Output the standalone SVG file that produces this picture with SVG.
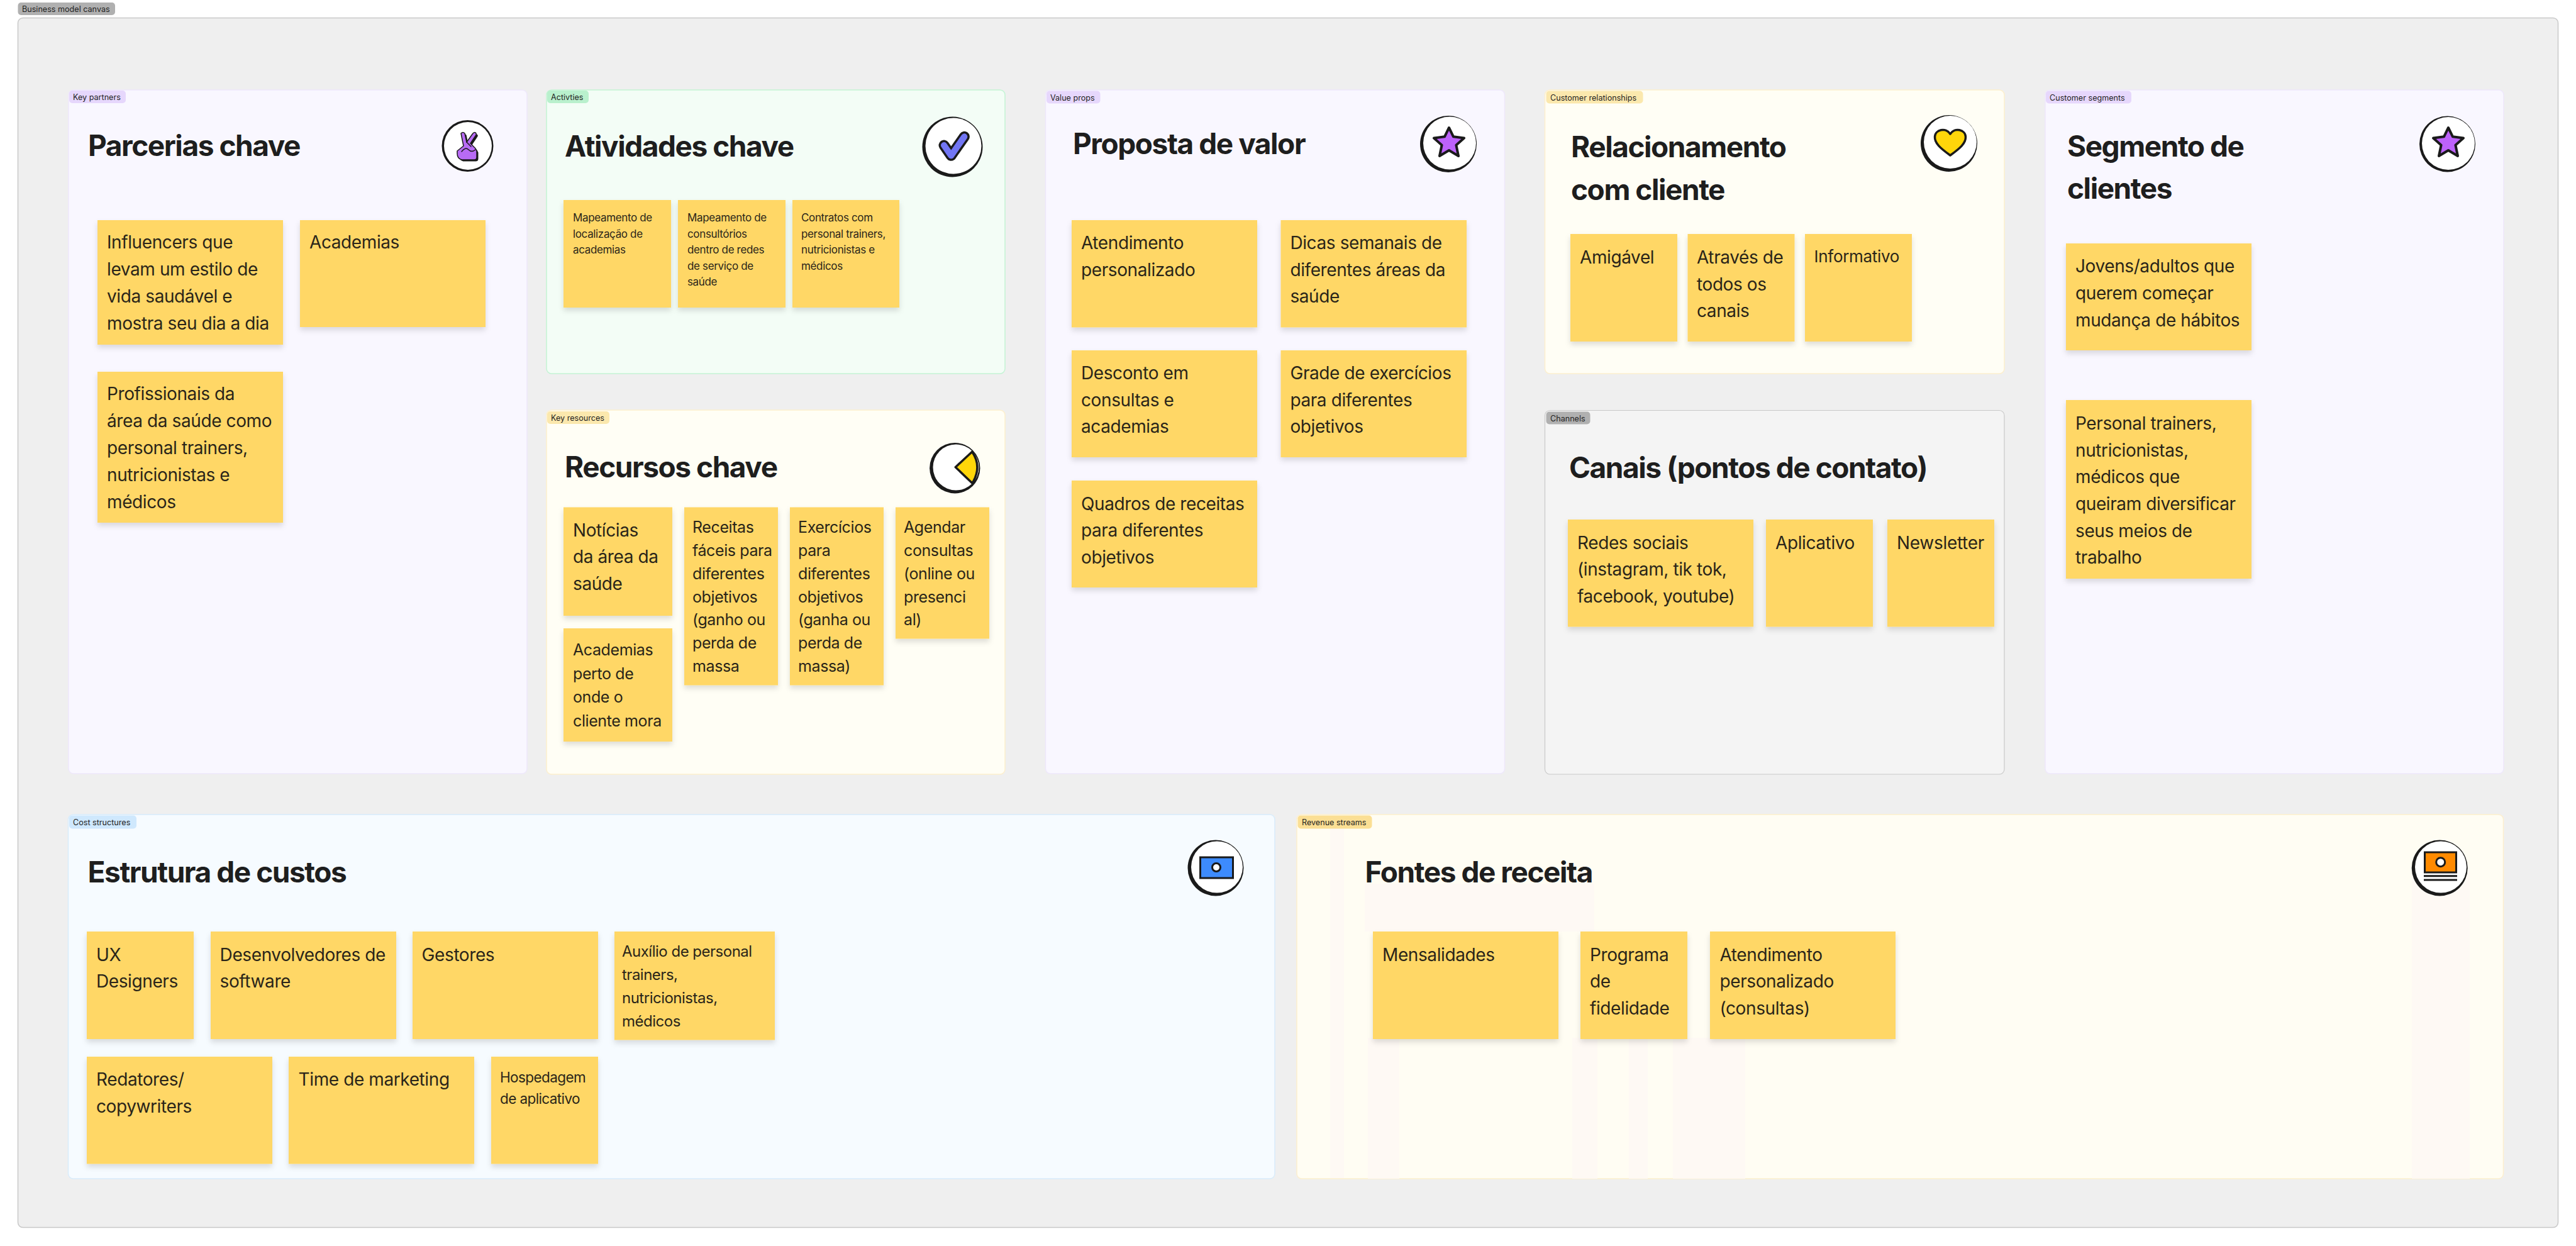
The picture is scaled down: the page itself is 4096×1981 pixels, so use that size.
<svg xmlns="http://www.w3.org/2000/svg" width="4096" height="1981" viewBox="0 0 4096 1981">
<style>
text{font-family:Inter,"Liberation Sans",sans-serif;fill:#2a2519}
.p{stroke-width:1.5}
.pu{fill:#f9f7ff;stroke:#eee8fb}
.gr{fill:#f3fdf6;stroke:#c3f4d4}
.ye{fill:#fffef5;stroke:#fdefcd}
.bl{fill:#f6fbff;stroke:#d8ecfb}
.ga{fill:#f4f4f4;stroke:#c9c9c9;stroke-width:1.2}
.l{font-size:12.6px;fill:#1e1e1e}
.h{font-size:46px;font-weight:700;fill:#1e1e1e;letter-spacing:-1.45px}
.s{fill:#ffd766;filter:url(#sh)}
.t18{font-size:17px;letter-spacing:-.35px}.t24{font-size:22.5px;letter-spacing:-.6px}.t24b{font-size:24px;letter-spacing:-.5px}.t26{font-size:25px;letter-spacing:-.4px}.t28{font-size:26px;letter-spacing:-.3px}.t29{font-size:28px;letter-spacing:-.3px}.t30{font-size:28px;letter-spacing:-.4px}
.ring{fill:#1a1a1a}.in{fill:#fff}
.k{stroke:#1a1a1a;stroke-linejoin:round;stroke-linecap:round}
</style>
<defs>
<filter id="sh" x="-10%" y="-10%" width="120%" height="125%"><feDropShadow dx="0" dy="5" stdDeviation="4" flood-color="#000" flood-opacity=".13"/></filter>
<path id="star" class="k" stroke-width="4" fill="#bd62fb" d="M0-24 7-9.700 24-7.500 11.400 3.700 15 21 0 12-15 21-11.400 3.700-24-7.500-7-9.700Z"/>
<path id="hand" d="M733 212Q736 209 739 212L742 226 752 212Q755 209 757 212 758 214 756 216L748 228 756 236 758 240V250Q758 254 754 254H734Q727 252 727 244V240L737 232Z"/>
</defs>
<rect width="4096" height="1981" fill="#fff"/>
<g id="canvas">
<rect x="28.500" y="28.500" width="4039" height="1923" rx="8" fill="#efefef" stroke="#c8c8c8" stroke-width="1.5"/>
<rect x="28.500" y="4" width="154.500" height="20" rx="5" fill="#b0b0b0"/>
<text class="l" x="35" y="19">Business model canvas</text>
</g>

<g id="key-partners">
<rect class="p pu" x="109" y="143" width="729" height="1087" rx="8"/>
<rect x="110" y="144" width="90" height="20" rx="5" fill="#e6d7fc"/><text class="l" x="116" y="159">Key partners</text>
<text class="h" x="140" y="248">Parcerias chave</text>
<g id="icon-partners"><circle class="ring" cx="743.500" cy="232" r="41"/><circle class="in" cx="744" cy="232" r="38"/>
<use href="#hand" transform="translate(2.500 2.500)" fill="#1a1a1a"/>
<use href="#hand" class="k" stroke-width="1.500" fill="#b86bf5"/>
<path class="k" fill="none" stroke-width="1.500" d="M734 241Q740 233 745 238T756 238M742 226 749 233"/></g>
<g id="s-influencers"><rect class="s" x="155" y="350" width="295" height="198"/><text class="t30" x="170" y="395">Influencers que<tspan x="170" y="438">levam um estilo de</tspan><tspan x="170" y="481">vida saudável e</tspan><tspan x="170" y="523.500">mostra seu dia a dia</tspan></text></g>
<g id="s-academias"><rect class="s" x="477" y="350" width="295" height="170"/><text class="t30" x="492" y="395">Academias</text></g>
<g id="s-profissionais"><rect class="s" x="155" y="591" width="295" height="240"/><text class="t30" x="170" y="636">Profissionais da<tspan x="170" y="679">área da saúde como</tspan><tspan x="170" y="722">personal trainers,</tspan><tspan x="170" y="765">nutricionistas e</tspan><tspan x="170" y="808">médicos</tspan></text></g>
</g>

<g id="activities">
<rect class="p gr" x="869" y="143" width="729" height="451" rx="8"/>
<rect x="870" y="144" width="66" height="20" rx="5" fill="#b9f0cd"/><text class="l" x="876" y="159">Activties</text>
<text class="h" x="898" y="249">Atividades chave</text>
<g id="icon-activities"><circle class="ring" cx="1514.500" cy="233.500" r="48"/><circle class="in" cx="1516" cy="232" r="44.500"/>
<polyline points="1501,231 1512.300,247.300 1533.300,217.300" class="k" fill="none" stroke-width="17"/><polyline points="1501,231 1512.300,247.300 1533.300,217.300" stroke="#7276f4" stroke-linejoin="round" stroke-linecap="round" fill="none" stroke-width="10"/></g>
<g id="s-map1"><rect class="s" x="896" y="318" width="171" height="171"/><text class="t18" x="911" y="352">Mapeamento de<tspan x="911" y="377.500">localização de</tspan><tspan x="911" y="403">academias</tspan></text></g>
<g id="s-map2"><rect class="s" x="1078" y="318" width="171" height="171"/><text class="t18" x="1093" y="352">Mapeamento de<tspan x="1093" y="377.500">consultórios</tspan><tspan x="1093" y="403">dentro de redes</tspan><tspan x="1093" y="428.500">de serviço de</tspan><tspan x="1093" y="454">saúde</tspan></text></g>
<g id="s-contratos"><rect class="s" x="1260" y="318" width="170" height="171"/><text class="t18" x="1274" y="352">Contratos com<tspan x="1274" y="377.500">personal trainers,</tspan><tspan x="1274" y="403">nutricionistas e</tspan><tspan x="1274" y="428.500">médicos</tspan></text></g>
</g>

<g id="key-resources">
<rect class="p ye" x="869" y="652" width="729" height="579" rx="8"/>
<rect x="870" y="654" width="99" height="20" rx="5" fill="#fbe8ad"/><text class="l" x="876" y="669">Key resources</text>
<text class="h" x="898" y="758.500">Recursos chave</text>
<g id="icon-resources"><circle class="ring" cx="1518.300" cy="744.200" r="40.200"/><circle class="in" cx="1520" cy="743" r="36.500"/>
<path d="M1519.300 742.700 1545.700 718.300Q1562 742 1546 768.300Z" fill="#ffd60a" stroke="#1a1a1a" stroke-width="3.500" stroke-linejoin="round"/></g>
<g id="s-noticias"><rect class="s" x="896" y="806.500" width="173" height="172.500"/><text class="t30" x="911" y="852.700">Notícias<tspan x="911" y="895.400">da área da</tspan><tspan x="911" y="938">saúde</tspan></text></g>
<g id="s-academias2"><rect class="s" x="896" y="999" width="173" height="180"/><text class="t26" x="911" y="1041.700">Academias<tspan x="911" y="1079.500">perto de</tspan><tspan x="911" y="1117">onde o</tspan><tspan x="911" y="1154.500">cliente mora</tspan></text></g>
<g id="s-receitas"><rect class="s" x="1088" y="806.500" width="149" height="283"/><text class="t26" x="1101" y="847">Receitas<tspan x="1101" y="883.800">fáceis para</tspan><tspan x="1101" y="920.700">diferentes</tspan><tspan x="1101" y="957.500">objetivos</tspan><tspan x="1101" y="994.400">(ganho ou</tspan><tspan x="1101" y="1031.200">perda de</tspan><tspan x="1101" y="1068">massa</tspan></text></g>
<g id="s-exercicios"><rect class="s" x="1256" y="806.500" width="149" height="283"/><text class="t26" x="1269" y="847">Exercícios<tspan x="1269" y="883.800">para</tspan><tspan x="1269" y="920.700">diferentes</tspan><tspan x="1269" y="957.500">objetivos</tspan><tspan x="1269" y="994.400">(ganha ou</tspan><tspan x="1269" y="1031.200">perda de</tspan><tspan x="1269" y="1068">massa)</tspan></text></g>
<g id="s-agendar"><rect class="s" x="1424" y="806.500" width="149" height="209"/><text class="t26" x="1437" y="847">Agendar<tspan x="1437" y="883.800">consultas</tspan><tspan x="1437" y="920.700">(online ou</tspan><tspan x="1437" y="957.500">presenci</tspan><tspan x="1437" y="994.400">al)</tspan></text></g>
</g>

<g id="value-props">
<rect class="p pu" x="1662.500" y="143" width="730" height="1087" rx="8"/>
<rect x="1664" y="144.500" width="85.500" height="20" rx="5" fill="#e6d7fc"/><text class="l" x="1670" y="160">Value props</text>
<text class="h" x="1706" y="245">Proposta de valor</text>
<g id="icon-value"><circle class="ring" cx="2303" cy="229" r="45"/><circle class="in" cx="2305" cy="227.500" r="42"/><use href="#star" x="2304" y="227"/></g>
<g id="s-atend"><rect class="s" x="1704" y="350" width="295" height="170.500"/><text class="t30" x="1719" y="396">Atendimento<tspan x="1719" y="438.700">personalizado</tspan></text></g>
<g id="s-dicas"><rect class="s" x="2036.500" y="350" width="295.500" height="170.500"/><text class="t30" x="2051.400" y="396">Dicas semanais de<tspan x="2051.400" y="438.700">diferentes áreas da</tspan><tspan x="2051.400" y="481">saúde</tspan></text></g>
<g id="s-desconto"><rect class="s" x="1704" y="557" width="295" height="170"/><text class="t30" x="1719" y="603">Desconto em<tspan x="1719" y="645.500">consultas e</tspan><tspan x="1719" y="688">academias</tspan></text></g>
<g id="s-grade"><rect class="s" x="2036.500" y="557" width="295.500" height="170"/><text class="t30" x="2051.400" y="603">Grade de exercícios<tspan x="2051.400" y="645.500">para diferentes</tspan><tspan x="2051.400" y="688">objetivos</tspan></text></g>
<g id="s-quadros"><rect class="s" x="1704" y="764" width="295" height="170"/><text class="t30" x="1719" y="810.600">Quadros de receitas<tspan x="1719" y="853">para diferentes</tspan><tspan x="1719" y="895.500">objetivos</tspan></text></g>
</g>

<g id="customer-relationships">
<rect class="p ye" x="2456.500" y="143" width="730.500" height="451" rx="8"/>
<rect x="2458.500" y="144.500" width="154" height="20" rx="5" fill="#fbe8ad"/><text class="l" x="2465" y="160">Customer relationships</text>
<text class="h" x="2498" y="249.700">Relacionamento<tspan x="2498" y="317.500">com cliente</tspan></text>
<g id="icon-relationships"><circle class="ring" cx="3099" cy="228" r="45"/><circle class="in" cx="3101" cy="226" r="42"/>
<path d="M3101 247C3086 236 3076 228 3076.500 217.500 3077 206 3094 202 3101 213 3108 202 3125 206 3125.500 217.500 3126 228 3116 236 3101 247Z" fill="#ffd60a" class="k" stroke-width="3.500"/></g>
<g id="s-amigavel"><rect class="s" x="2497" y="372" width="170" height="171"/><text class="t30" x="2512" y="419">Amigável</text></g>
<g id="s-atraves"><rect class="s" x="2683.500" y="372" width="170" height="171"/><text class="t30" x="2698" y="419">Através de<tspan x="2698" y="461.500">todos os</tspan><tspan x="2698" y="504">canais</tspan></text></g>
<g id="s-informativo"><rect class="s" x="2870" y="372" width="170" height="171"/><text class="t28" x="2884.600" y="416.800">Informativo</text></g>
</g>

<g id="channels">
<rect class="p ga" x="2456.500" y="652.500" width="730.500" height="578.500" rx="8"/>
<rect x="2458.500" y="654.500" width="70" height="20" rx="5" fill="#b0b0b0"/><text class="l" x="2465" y="670">Channels</text>
<text class="h" x="2495" y="760">Canais (pontos de contato)</text>
<g id="s-redes"><rect class="s" x="2493" y="826" width="295" height="170.500"/><text class="t30" x="2508" y="872.600">Redes sociais<tspan x="2508" y="915">(instagram, tik tok,</tspan><tspan x="2508" y="957.500">facebook, youtube)</tspan></text></g>
<g id="s-aplicativo"><rect class="s" x="2808" y="826" width="170" height="170.500"/><text class="t30" x="2823" y="872.600">Aplicativo</text></g>
<g id="s-newsletter"><rect class="s" x="3001" y="826" width="170" height="170.500"/><text class="t29" x="3016" y="872.600">Newsletter</text></g>
</g>

<g id="customer-segments">
<rect class="p pu" x="3252" y="143" width="729" height="1087" rx="8"/>
<rect x="3253" y="144.500" width="136" height="20" rx="5" fill="#e6d7fc"/><text class="l" x="3259" y="160">Customer segments</text>
<text class="h" x="3287" y="249">Segmento de<tspan x="3287" y="316">clientes</tspan></text>
<g id="icon-segments"><circle class="ring" cx="3891.500" cy="229" r="44.500"/><circle class="in" cx="3893" cy="228" r="42"/><use href="#star" x="3893" y="227"/></g>
<g id="s-jovens"><rect class="s" x="3285" y="387" width="295" height="170"/><text class="t30" x="3300" y="433">Jovens/adultos que<tspan x="3300" y="476">querem começar</tspan><tspan x="3300" y="519">mudança de hábitos</tspan></text></g>
<g id="s-personal"><rect class="s" x="3285" y="636" width="295" height="284"/><text class="t30" x="3300" y="683">Personal trainers,<tspan x="3300" y="725.600">nutricionistas,</tspan><tspan x="3300" y="768">médicos que</tspan><tspan x="3300" y="811">queiram diversificar</tspan><tspan x="3300" y="854">seus meios de</tspan><tspan x="3300" y="895.600">trabalho</tspan></text></g>
</g>

<g id="cost-structures">
<rect class="p bl" x="108.500" y="1295" width="1918.500" height="579" rx="8"/>
<rect x="110" y="1296.500" width="107" height="21" rx="5" fill="#cfe8fd"/><text class="l" x="116" y="1312">Cost structures</text>
<text class="h" x="139.600" y="1402.800">Estrutura de custos</text>
<g id="icon-cost"><circle class="ring" cx="1933" cy="1380" r="44.500"/><circle class="in" cx="1935" cy="1378.500" r="41"/>
<rect x="1908.500" y="1363" width="52" height="33" fill="#3d8bfd" stroke="#1a1a1a" stroke-width="3"/><circle cx="1934" cy="1379" r="6.500" fill="#fff" stroke="#1a1a1a" stroke-width="3"/></g>
<g id="s-ux"><rect class="s" x="138" y="1481" width="170" height="171"/><text class="t30" x="153" y="1527.800">UX<tspan x="153" y="1570">Designers</tspan></text></g>
<g id="s-dev"><rect class="s" x="335" y="1481" width="295" height="171"/><text class="t30" x="349.600" y="1527.800">Desenvolvedores de<tspan x="349.600" y="1570">software</tspan></text></g>
<g id="s-gestores"><rect class="s" x="656" y="1481" width="295" height="171"/><text class="t30" x="670.600" y="1527.800">Gestores</text></g>
<g id="s-auxilio"><rect class="s" x="977" y="1481" width="255" height="172.500"/><text class="t24b" x="989" y="1521">Auxílio de personal<tspan x="989" y="1557.800">trainers,</tspan><tspan x="989" y="1594.700">nutricionistas,</tspan><tspan x="989" y="1631.800">médicos</tspan></text></g>
<g id="s-redatores"><rect class="s" x="138" y="1680" width="295" height="170.500"/><text class="t30" x="153" y="1726.400">Redatores/<tspan x="153" y="1769">copywriters</tspan></text></g>
<g id="s-time"><rect class="s" x="459" y="1680" width="295" height="170.500"/><text class="t30" x="474.600" y="1726.400">Time de marketing</text></g>
<g id="s-hospedagem"><rect class="s" x="781" y="1680" width="170" height="170.500"/><text class="t24" x="795" y="1720.600">Hospedagem<tspan x="795" y="1754.500">de aplicativo</tspan></text></g>
</g>

<g id="revenue-streams">
<rect class="p ye" x="2062" y="1295" width="1918.500" height="579" rx="8" style="fill:#fffdf3"/>
<g fill="#fef9f4"><rect x="2115" y="1300" width="22" height="573"/><rect x="2170" y="1405" width="365" height="76"/><rect x="2175" y="1650" width="50" height="224"/><rect x="2500" y="1650" width="40" height="224"/><rect x="2590" y="1650" width="30" height="224"/><rect x="2660" y="1650" width="115" height="224"/><rect x="3835" y="1380" width="92" height="494"/></g>
<rect x="2063.500" y="1296.500" width="118" height="21" rx="5" fill="#fbdf94"/><text class="l" x="2070" y="1312">Revenue streams</text>
<text class="h" x="2170.600" y="1402.800">Fontes de receita</text>
<g id="icon-revenue"><circle class="ring" cx="3879.200" cy="1380" r="44.500"/><circle class="in" cx="3881" cy="1378.500" r="41"/>
<rect x="3855.500" y="1355" width="50" height="32" fill="#ff8a00" stroke="#1a1a1a" stroke-width="3"/><circle cx="3880.700" cy="1370.700" r="7" fill="#fff" stroke="#1a1a1a" stroke-width="3"/>
<path d="M3854 1392.700H3907M3854 1399H3907" stroke="#1a1a1a" stroke-width="3"/></g>
<g id="s-mensalidades"><rect class="s" x="2183" y="1481" width="295" height="171"/><text class="t30" x="2198" y="1527.800">Mensalidades</text></g>
<g id="s-programa"><rect class="s" x="2513" y="1481" width="170" height="171"/><text class="t30" x="2528" y="1527.800">Programa<tspan x="2528" y="1570">de</tspan><tspan x="2528" y="1612.600">fidelidade</tspan></text></g>
<g id="s-atendimento"><rect class="s" x="2719" y="1481" width="295" height="171"/><text class="t30" x="2734.500" y="1527.800">Atendimento<tspan x="2734.500" y="1570">personalizado</tspan><tspan x="2734.500" y="1612.600">(consultas)</tspan></text></g>
</g>
</svg>
